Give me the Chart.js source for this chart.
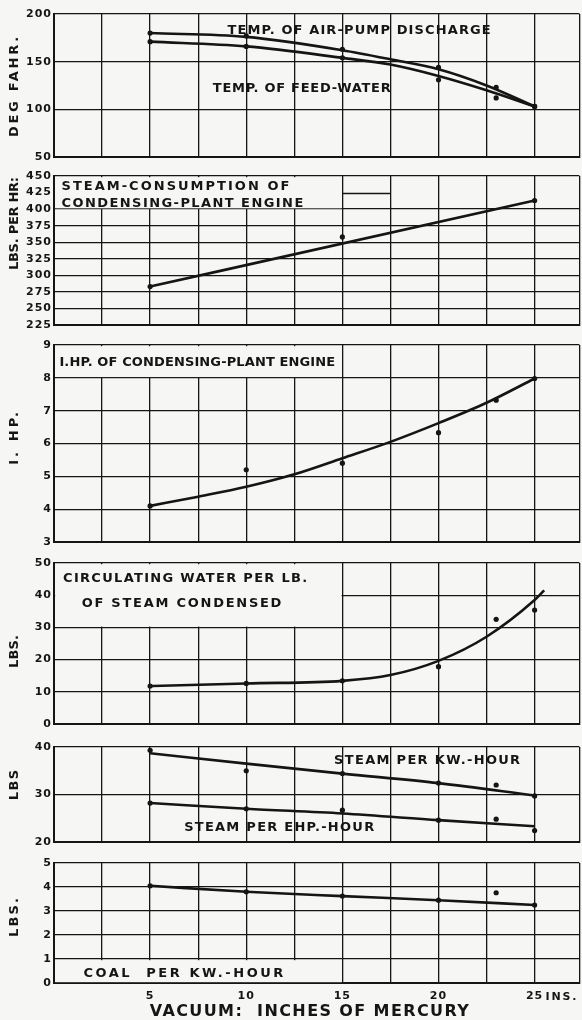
<!DOCTYPE html>
<html>
<head>
<meta charset="utf-8">
<script src="https://cdn.jsdelivr.net/npm/chart.js@4.4.1/dist/chart.umd.min.js"></script>
<style>
  html, body { margin: 0; padding: 0; background: #f6f6f4; }
  #sheet { position: relative; width: 582px; height: 1020px; overflow: hidden; background: #f6f6f4; }
  #sheet canvas { position: absolute; left: 0; }
</style>
</head>
<body>
<div id="sheet"></div>
<script>
// ---------- readings ----------
// vacuum (inches of mercury) at which each test was run
const testVacuum = [5, 10, 15, 20, 23, 25];

// temperatures, deg. Fahr.
const tempCurveVacuum = [5, 10, 15, 17.5, 20, 22.5, 25];
const airPumpCurve    = [180, 176, 162, 152.5, 142, 125, 103];
const feedWaterCurve  = [171, 166, 154, 147, 135, 120, 103];
const airPumpTests    = [180, 177, 163, 144, 123, 103];
const feedWaterTests  = [171, 166, 154, 131, 112, 103];

// steam consumption of condensing-plant engine, lbs. per hr.
const steamConsCurveVacuum = [5, 25];
const steamConsCurve       = [283, 413];
const steamConsTestVacuum  = [5, 15, 25];
const steamConsTests       = [283, 358, 413];

// indicated horse-power of condensing-plant engine
const ihpCurveVacuum = [5, 7.5, 10, 12.5, 15, 17.5, 20, 22.5, 25];
const ihpCurve       = [4.1, 4.38, 4.68, 5.06, 5.55, 6.05, 6.62, 7.24, 7.98];
const ihpTests       = [4.1, 5.2, 5.4, 6.33, 7.32, 7.98];

// circulating water per lb. of steam condensed, lbs.
const circCurveVacuum = [5, 10, 15, 17.5, 20, 22.5, 25, 25.5];
const circCurve       = [11.8, 12.6, 13.4, 15.2, 19.6, 27.1, 38.5, 41.5];
const circTests       = [11.8, 12.6, 13.4, 17.8, 32.5, 35.4];

// steam per kw.-hour and per e.h.p.-hour, lbs.
const rateCurveVacuum  = [5, 10, 15, 20, 25];
const steamPerKwCurve  = [38.7, 36.5, 34.4, 32.4, 29.8];
const steamPerKwTests  = [39.3, 35.0, 34.4, 32.4, 32.0, 29.7];
const steamPerEhpCurve = [28.2, 27.0, 26.0, 24.6, 23.3];
const steamPerEhpTests = [28.2, 27.0, 26.7, 24.6, 24.8, 22.4];

// coal per kw.-hour, lbs.
const coalCurve = [4.05, 3.8, 3.62, 3.45, 3.25];
const coalTests = [4.05, 3.8, 3.62, 3.45, 3.76, 3.25];

// ---------- axes ----------
const vacuumLabels = { 5: '5', 10: '10', 15: '15', 20: '20', 25: '25' };
const tempAxis      = [50, 200, 50];   // min, max, step
const steamConsAxis = [225, 450, 25];
const ihpAxis       = [3, 9, 1];
const circAxis      = [0, 50, 10];
const steamRateAxis = [20, 40, 10];
const coalAxis      = [0, 5, 1];

// ---------- drawing ----------
const INK = '#151515';
const PAPER = '#f6f6f4';
const FONT = '"DejaVu Sans", "Liberation Sans", sans-serif';
const VAC_MAX = 27.33;      // right edge of the ruled sheet
const PAD = 12;
const WIDTH = 582;

function series(xs, ys) { return xs.map((x, i) => ({ x, y: ys[i] })); }
function curve(xs, ys) {
  return { data: series(xs, ys), showLine: true, borderColor: INK, borderWidth: 2.6,
           pointRadius: 0, pointHoverRadius: 0, cubicInterpolationMode: 'monotone', fill: false };
}
function tests(xs, ys) {
  return { data: series(xs, ys), showLine: false, pointRadius: 2.6, pointHoverRadius: 2.6,
           pointBackgroundColor: INK, pointBorderWidth: 0 };
}

function spacedText(ctx, str, x0, x1, yc, size) {
  ctx.font = `bold ${size}px ${FONT}`;
  ctx.letterSpacing = '0px';
  const w = ctx.measureText(str).width;
  const n = [...str].length;
  const ls = n > 1 ? (x1 - x0 - w) / (n - 1) : 0;
  ctx.letterSpacing = ls.toFixed(2) + 'px';
  ctx.textAlign = 'left';
  ctx.textBaseline = 'middle';
  ctx.fillStyle = INK;
  ctx.fillText(str, x0, yc);
  ctx.letterSpacing = '0px';
}

const sheetDecor = {
  id: 'sheetDecor',
  beforeDraw(chart) { chart.ctx.letterSpacing = '1px'; },
  beforeDatasetsDraw(chart, args, opts) {
    const { ctx, scales: { x, y } } = chart;
    ctx.save();
    // blank label panes ruled off from the grid
    (opts.panes || []).forEach(p => {
      const l = x.getPixelForValue(p.x0) + 1.2, r = x.getPixelForValue(p.x1) - 0.8;
      const t = y.getPixelForValue(p.y1) + 1.2, b = y.getPixelForValue(p.y0) - 0.8;
      ctx.fillStyle = PAPER;
      ctx.fillRect(l, t, r - l, b - t);
    });
    // short rule pieces
    (opts.rules || []).forEach(s => {
      const py = Math.round(y.getPixelForValue(s.y)) + 0.5;
      ctx.strokeStyle = INK; ctx.lineWidth = 1.3;
      ctx.beginPath();
      ctx.moveTo(x.getPixelForValue(s.x0), py);
      ctx.lineTo(x.getPixelForValue(s.x1), py);
      ctx.stroke();
    });
    ctx.restore();
  },
  afterDatasetsDraw(chart, args, opts) {
    const { ctx, scales: { x, y }, chartArea } = chart;
    ctx.save();
    (opts.notes || []).forEach(n => {
      spacedText(ctx, n.text, x.getPixelForValue(n.x0), x.getPixelForValue(n.x1), y.getPixelForValue(n.y), n.size || 13);
    });
    if (opts.axisTitle) {
      const t = opts.axisTitle;
      const yTop = y.getPixelForValue(t.y0), yBot = y.getPixelForValue(t.y1);
      const len = yBot - yTop;
      ctx.save();
      ctx.translate(t.cx, (yTop + yBot) / 2);
      ctx.rotate(-Math.PI / 2);
      spacedText(ctx, t.text, -len / 2, len / 2, 0, t.size || 13);
      ctx.restore();
    }
    (opts.below || []).forEach(n => {
      spacedText(ctx, n.text, x.getPixelForValue(n.x0), x.getPixelForValue(n.x1), chartArea.bottom + n.dy, n.size || 11);
    });
    ctx.restore();
  }
};

function vacuumGrid(scale) {
  const t = [];
  for (let v = 0; v <= 25.001; v += 2.5) t.push({ value: v });
  t.push({ value: VAC_MAX });
  scale.ticks = t;
}

function makePanel(p) {
  const last = !!p.xLabels;
  const xAxisH = last ? 1020 - p.bottom : 0;
  const canvasTop = p.top - PAD;
  const height = (p.bottom - p.top) + PAD + (last ? xAxisH : PAD);
  const canvas = document.createElement('canvas');
  canvas.width = WIDTH; canvas.height = height;
  canvas.style.top = canvasTop + 'px';
  canvas.style.width = WIDTH + 'px';
  canvas.style.height = height + 'px';
  document.getElementById('sheet').appendChild(canvas);
  const [ymin, ymax, ystep] = p.axis;
  const hidden = p.hideY || [];
  new Chart(canvas, {
    type: 'scatter',
    data: { datasets: p.datasets },
    options: {
      responsive: false, maintainAspectRatio: false, animation: false, devicePixelRatio: 1,
      layout: { padding: { top: PAD, bottom: last ? 0 : PAD, left: 0, right: 1 } },
      plugins: { legend: { display: false }, tooltip: { enabled: false }, sheetDecor: p.decor },
      scales: {
        x: {
          type: 'linear', min: 0, max: VAC_MAX,
          afterBuildTicks: vacuumGrid,
          afterFit(s) { s.height = xAxisH; s.paddingLeft = 0; s.paddingRight = 0; },
          grid: { color: INK, lineWidth: 1.3, drawTicks: false },
          border: { display: true, color: INK, width: 2 },
          ticks: {
            display: last, autoSkip: false, maxRotation: 0, padding: 7, color: INK,
            font: { family: FONT, size: 11, weight: 'bold' },
            callback: v => (last && vacuumLabels[v]) || ''
          }
        },
        y: {
          type: 'linear', min: ymin, max: ymax,
          afterFit(s) { s.width = 54; },
          grid: { color: c => hidden.includes(c.tick && c.tick.value) ? 'rgba(0,0,0,0)' : INK, lineWidth: 1.3, drawTicks: false },
          border: { display: true, color: INK, width: 2 },
          ticks: { stepSize: ystep, padding: 2, color: INK, font: { family: FONT, size: 11, weight: 'bold' } }
        }
      }
    },
    plugins: [sheetDecor]
  });
}

const panels = [
  {
    top: 14, bottom: 157, axis: tempAxis,
    datasets: [curve(tempCurveVacuum, airPumpCurve), curve(tempCurveVacuum, feedWaterCurve),
               tests(testVacuum, airPumpTests), tests(testVacuum, feedWaterTests)],
    decor: {
      axisTitle: { text: 'DEG FAHR.', cx: 15, y0: 176, y1: 71 },
      notes: [
        { text: 'TEMP. OF AIR-PUMP DISCHARGE', x0: 9.02, x1: 22.72, y: 182.6 },
        { text: 'TEMP. OF FEED-WATER', x0: 8.26, x1: 17.52, y: 121.9 }
      ]
    }
  },
  {
    top: 176, bottom: 325, axis: steamConsAxis, hideY: [425],
    datasets: [curve(steamConsCurveVacuum, steamConsCurve), tests(steamConsTestVacuum, steamConsTests)],
    decor: {
      panes: [{ x0: 0, x1: 15, y0: 400, y1: 450 }],
      rules: [{ x0: 15, x1: 17.5, y: 425 }],
      axisTitle: { text: 'LBS. PER HR:', cx: 15, y0: 448.5, y1: 308 },
      notes: [
        { text: 'STEAM-CONSUMPTION OF', x0: 0.39, x1: 12.24, y: 433.4 },
        { text: 'CONDENSING-PLANT ENGINE', x0: 0.39, x1: 12.97, y: 408.8 }
      ]
    }
  },
  {
    top: 345, bottom: 542, axis: ihpAxis,
    datasets: [curve(ihpCurveVacuum, ihpCurve), tests(testVacuum, ihpTests)],
    decor: {
      panes: [{ x0: 0, x1: 15, y0: 8, y1: 9 }],
      axisTitle: { text: 'I. HP.', cx: 15, y0: 6.96, y1: 5.35 },
      notes: [{ text: 'I.HP. OF CONDENSING-PLANT ENGINE', x0: 0.28, x1: 14.63, y: 8.46 }]
    }
  },
  {
    top: 563, bottom: 724, axis: circAxis,
    datasets: [curve(circCurveVacuum, circCurve), tests(testVacuum, circTests)],
    decor: {
      panes: [{ x0: 0, x1: 15, y0: 30, y1: 50 }],
      axisTitle: { text: 'LBS.', cx: 15, y0: 27.6, y1: 17.4 },
      notes: [
        { text: 'CIRCULATING WATER PER LB.', x0: 0.47, x1: 13.17, y: 45.0 },
        { text: 'OF STEAM CONDENSED', x0: 1.44, x1: 11.83, y: 37.3 }
      ]
    }
  },
  {
    top: 747, bottom: 842, axis: steamRateAxis,
    datasets: [curve(rateCurveVacuum, steamPerKwCurve), curve(rateCurveVacuum, steamPerEhpCurve),
               tests(testVacuum, steamPerKwTests), tests(testVacuum, steamPerEhpTests)],
    decor: {
      axisTitle: { text: 'LBS', cx: 15, y0: 35.2, y1: 28.8 },
      notes: [
        { text: 'STEAM PER KW.-HOUR', x0: 14.57, x1: 24.25, y: 37.05 },
        { text: 'STEAM PER EHP.-HOUR', x0: 6.77, x1: 16.65, y: 23.0 }
      ]
    }
  },
  {
    top: 863, bottom: 983, axis: coalAxis, xLabels: true,
    datasets: [curve(rateCurveVacuum, coalCurve), tests(testVacuum, coalTests)],
    decor: {
      panes: [{ x0: 0, x1: 15, y0: 0, y1: 1 }],
      axisTitle: { text: 'LBS.', cx: 15, y0: 3.54, y1: 1.92 },
      notes: [{ text: 'COAL  PER KW.-HOUR', x0: 1.53, x1: 11.93, y: 0.4 }],
      below: [
        { text: 'INS.', x0: 25.57, x1: 27.18, dy: 14, size: 11 },
        { text: 'VACUUM:  INCHES OF MERCURY', x0: 4.98, x1: 21.58, dy: 29, size: 16 }
      ]
    }
  }
];

panels.forEach(makePanel);
</script>
</body>
</html>
